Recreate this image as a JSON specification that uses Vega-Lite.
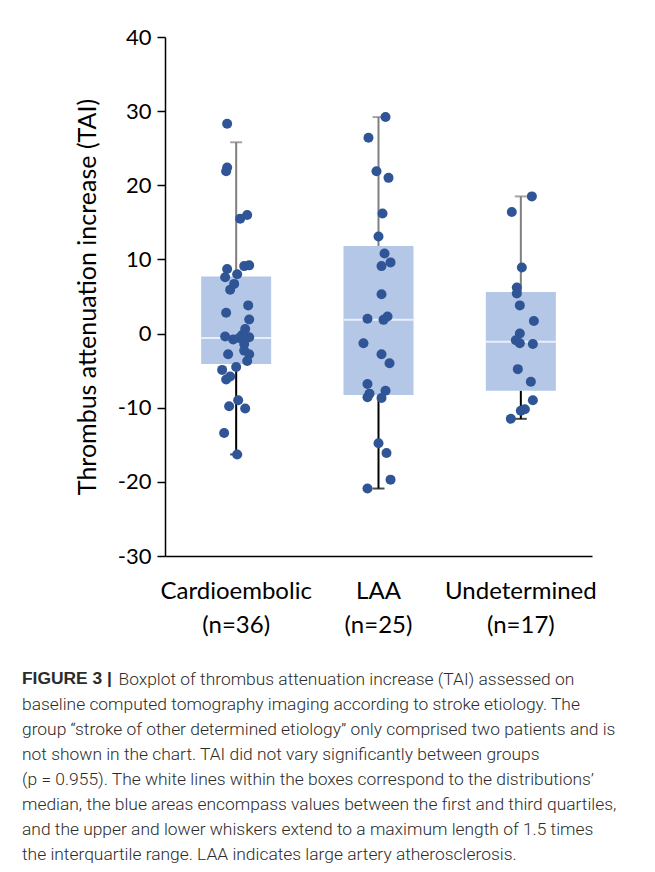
{
  "$schema": "https://vega.github.io/schema/vega-lite/v6.json",
  "width": 427,
  "height": 519,
  "autosize": "none",
  "padding": {"left": 165, "top": 37, "right": 63, "bottom": 316},
  "background": "white",
  "config": {"view": {"stroke": null}, "font": "Lato"},
  "title": {
    "text": [
      "\u200b\u2003\u2003\u2003\u2003\u2003\u00a0\u2009Boxplot of thrombus attenuation increase (TAI) assessed on",
      "baseline computed tomography imaging according to stroke etiology. The",
      "group \u201cstroke of other determined etiology\u201d only comprised two patients and is",
      "not shown in the chart. TAI did not vary significantly between groups",
      "(p = 0.955). The white lines within the boxes correspond to the distributions\u2019",
      "median, the blue areas encompass values between the first and third quartiles,",
      "and the upper and lower whiskers extend to a maximum length of 1.5 times",
      "the interquartile range. LAA indicates large artery atherosclerosis."
    ],
    "subtitle": "FIGURE 3 |",
    "orient": "bottom",
    "anchor": "start",
    "frame": "group",
    "dx": -143,
    "offset": 34,
    "font": "Roboto",
    "fontSize": 17.4,
    "fontWeight": 300,
    "color": "#2b2b2b",
    "lineHeight": 25,
    "subtitleFont": "Liberation Sans",
    "subtitleFontSize": 17.4,
    "subtitleFontWeight": "bold",
    "subtitleColor": "#2b2b2b",
    "subtitlePadding": -193
  },
  "datasets": {
    "summary": [
      {"group": "Cardioembolic (n=36)", "q1": -4.1, "median": -0.6, "q3": 7.7, "lower": -16.3, "upper": 25.8},
      {"group": "LAA (n=25)", "q1": -8.3, "median": 1.85, "q3": 11.8, "lower": -20.9, "upper": 29.2},
      {"group": "Undetermined (n=17)", "q1": -7.7, "median": -1.1, "q3": 5.6, "lower": -11.5, "upper": 18.5}
    ],
    "points": [
      {"group": "Cardioembolic (n=36)", "value": 28.3, "jitter": -9},
      {"group": "Cardioembolic (n=36)", "value": 22.4, "jitter": -9},
      {"group": "Cardioembolic (n=36)", "value": 21.9, "jitter": -10},
      {"group": "Cardioembolic (n=36)", "value": 16.0, "jitter": 11},
      {"group": "Cardioembolic (n=36)", "value": 15.5, "jitter": 4},
      {"group": "Cardioembolic (n=36)", "value": 9.1, "jitter": 8},
      {"group": "Cardioembolic (n=36)", "value": 9.2, "jitter": 13},
      {"group": "Cardioembolic (n=36)", "value": 8.7, "jitter": -9},
      {"group": "Cardioembolic (n=36)", "value": 8.0, "jitter": 1},
      {"group": "Cardioembolic (n=36)", "value": 7.6, "jitter": -11},
      {"group": "Cardioembolic (n=36)", "value": 6.7, "jitter": -2},
      {"group": "Cardioembolic (n=36)", "value": 5.9, "jitter": -6},
      {"group": "Cardioembolic (n=36)", "value": 3.8, "jitter": 12},
      {"group": "Cardioembolic (n=36)", "value": 2.8, "jitter": -10},
      {"group": "Cardioembolic (n=36)", "value": 1.9, "jitter": 13},
      {"group": "Cardioembolic (n=36)", "value": 0.6, "jitter": 9},
      {"group": "Cardioembolic (n=36)", "value": -0.2, "jitter": 6},
      {"group": "Cardioembolic (n=36)", "value": -0.4, "jitter": -11},
      {"group": "Cardioembolic (n=36)", "value": -0.5, "jitter": 13},
      {"group": "Cardioembolic (n=36)", "value": -0.4, "jitter": 7},
      {"group": "Cardioembolic (n=36)", "value": -0.6, "jitter": 3},
      {"group": "Cardioembolic (n=36)", "value": -0.8, "jitter": -3},
      {"group": "Cardioembolic (n=36)", "value": -1.4, "jitter": 8},
      {"group": "Cardioembolic (n=36)", "value": -2.3, "jitter": 8},
      {"group": "Cardioembolic (n=36)", "value": -2.8, "jitter": 13},
      {"group": "Cardioembolic (n=36)", "value": -2.8, "jitter": -8},
      {"group": "Cardioembolic (n=36)", "value": -3.7, "jitter": 11},
      {"group": "Cardioembolic (n=36)", "value": -4.5, "jitter": 0},
      {"group": "Cardioembolic (n=36)", "value": -4.9, "jitter": -14},
      {"group": "Cardioembolic (n=36)", "value": -5.8, "jitter": -6},
      {"group": "Cardioembolic (n=36)", "value": -6.2, "jitter": -10},
      {"group": "Cardioembolic (n=36)", "value": -9.0, "jitter": 2},
      {"group": "Cardioembolic (n=36)", "value": -9.8, "jitter": -7},
      {"group": "Cardioembolic (n=36)", "value": -10.1, "jitter": 9},
      {"group": "Cardioembolic (n=36)", "value": -13.4, "jitter": -12},
      {"group": "Cardioembolic (n=36)", "value": -16.3, "jitter": 1},
      {"group": "LAA (n=25)", "value": 29.2, "jitter": 7},
      {"group": "LAA (n=25)", "value": 26.4, "jitter": -10},
      {"group": "LAA (n=25)", "value": 21.9, "jitter": -2},
      {"group": "LAA (n=25)", "value": 21.0, "jitter": 10},
      {"group": "LAA (n=25)", "value": 16.2, "jitter": 4},
      {"group": "LAA (n=25)", "value": 13.1, "jitter": 0},
      {"group": "LAA (n=25)", "value": 10.8, "jitter": 6},
      {"group": "LAA (n=25)", "value": 9.6, "jitter": 12},
      {"group": "LAA (n=25)", "value": 9.1, "jitter": 3},
      {"group": "LAA (n=25)", "value": 5.3, "jitter": 3},
      {"group": "LAA (n=25)", "value": 2.3, "jitter": 9},
      {"group": "LAA (n=25)", "value": 2.0, "jitter": -11},
      {"group": "LAA (n=25)", "value": 1.85, "jitter": 5},
      {"group": "LAA (n=25)", "value": -1.3, "jitter": -15},
      {"group": "LAA (n=25)", "value": -2.8, "jitter": 3},
      {"group": "LAA (n=25)", "value": -4.0, "jitter": 11},
      {"group": "LAA (n=25)", "value": -6.8, "jitter": -11},
      {"group": "LAA (n=25)", "value": -7.7, "jitter": 7},
      {"group": "LAA (n=25)", "value": -8.1, "jitter": -9},
      {"group": "LAA (n=25)", "value": -8.6, "jitter": -11},
      {"group": "LAA (n=25)", "value": -8.7, "jitter": 3},
      {"group": "LAA (n=25)", "value": -14.8, "jitter": 0},
      {"group": "LAA (n=25)", "value": -16.1, "jitter": 8},
      {"group": "LAA (n=25)", "value": -19.7, "jitter": 12},
      {"group": "LAA (n=25)", "value": -20.9, "jitter": -11},
      {"group": "Undetermined (n=17)", "value": 18.5, "jitter": 11},
      {"group": "Undetermined (n=17)", "value": 16.4, "jitter": -9},
      {"group": "Undetermined (n=17)", "value": 8.9, "jitter": 1},
      {"group": "Undetermined (n=17)", "value": 6.2, "jitter": -4},
      {"group": "Undetermined (n=17)", "value": 5.4, "jitter": -4},
      {"group": "Undetermined (n=17)", "value": 3.8, "jitter": -1},
      {"group": "Undetermined (n=17)", "value": 1.7, "jitter": 13},
      {"group": "Undetermined (n=17)", "value": 0.0, "jitter": -1},
      {"group": "Undetermined (n=17)", "value": -0.9, "jitter": -5},
      {"group": "Undetermined (n=17)", "value": -1.3, "jitter": -1},
      {"group": "Undetermined (n=17)", "value": -1.4, "jitter": 12},
      {"group": "Undetermined (n=17)", "value": -4.8, "jitter": -3},
      {"group": "Undetermined (n=17)", "value": -6.5, "jitter": 10},
      {"group": "Undetermined (n=17)", "value": -9.0, "jitter": 12},
      {"group": "Undetermined (n=17)", "value": -10.2, "jitter": 4},
      {"group": "Undetermined (n=17)", "value": -10.4, "jitter": 0},
      {"group": "Undetermined (n=17)", "value": -11.5, "jitter": -10}
    ]
  },
  "encoding": {
    "x": {
      "field": "group",
      "type": "nominal",
      "sort": ["Cardioembolic (n=36)", "LAA (n=25)", "Undetermined (n=17)"],
      "scale": {"paddingInner": 0, "paddingOuter": 0},
      "axis": {
        "title": null,
        "labelAngle": 0,
        "labelExpr": "split(datum.label, ' ')",
        "labelFontSize": 24,
        "labelColor": "#000000",
        "labelLineHeight": 34,
        "labelPadding": 23,
        "ticks": false,
        "tickSize": 0,
        "domainColor": "#000000",
        "domainWidth": 1.5
      }
    }
  },
  "layer": [
    {
      "data": {"name": "summary"},
      "mark": {"type": "rule", "color": "#7f7f7f", "strokeWidth": 2},
      "encoding": {
        "y": {
          "field": "q3",
          "type": "quantitative",
          "title": "Thrombus attenuation increase (TAI)",
          "scale": {"domain": [-30, 40], "nice": false, "zero": false},
          "axis": {
            "values": [-30, -20, -10, 0, 10, 20, 30, 40],
            "labelExpr": "datum.value < 0 ? '-' + abs(datum.value) : '' + datum.value",
            "grid": false,
            "domainColor": "#000000",
            "domainWidth": 1.5,
            "tickColor": "#000000",
            "tickWidth": 1.5,
            "tickSize": 8,
            "labelFontSize": 22,
            "labelColor": "#000000",
            "labelPadding": 6,
            "titleFontSize": 25,
            "titleFontWeight": "normal",
            "titleColor": "#000000",
            "titlePadding": 17
          }
        },
        "y2": {"field": "upper"}
      }
    },
    {
      "data": {"name": "summary"},
      "mark": {"type": "rule", "color": "#000000", "strokeWidth": 2},
      "encoding": {
        "y": {"field": "lower", "type": "quantitative", "title": "Thrombus attenuation increase (TAI)"},
        "y2": {"field": "q1"}
      }
    },
    {
      "data": {"name": "summary"},
      "mark": {"type": "tick", "color": "#7f7f7f", "size": 12, "thickness": 2},
      "encoding": {
        "y": {"field": "upper", "type": "quantitative", "title": "Thrombus attenuation increase (TAI)"}
      }
    },
    {
      "data": {"name": "summary"},
      "mark": {"type": "tick", "color": "#000000", "size": 12, "thickness": 2},
      "encoding": {
        "y": {"field": "lower", "type": "quantitative", "title": "Thrombus attenuation increase (TAI)"}
      }
    },
    {
      "data": {"name": "summary"},
      "mark": {"type": "bar", "color": "#b4c7e7", "width": 70},
      "encoding": {
        "y": {"field": "q1", "type": "quantitative", "title": "Thrombus attenuation increase (TAI)"},
        "y2": {"field": "q3"}
      }
    },
    {
      "data": {"name": "summary"},
      "mark": {"type": "tick", "color": "#ffffff", "size": 70, "thickness": 2},
      "encoding": {
        "y": {"field": "median", "type": "quantitative", "title": "Thrombus attenuation increase (TAI)"}
      }
    },
    {
      "data": {"name": "points"},
      "mark": {"type": "circle", "color": "#2f5597", "size": 100, "opacity": 1},
      "encoding": {
        "xOffset": {"field": "jitter", "type": "quantitative", "scale": {"domain": [-71, 71]}},
        "y": {"field": "value", "type": "quantitative", "title": "Thrombus attenuation increase (TAI)"}
      }
    }
  ]
}
